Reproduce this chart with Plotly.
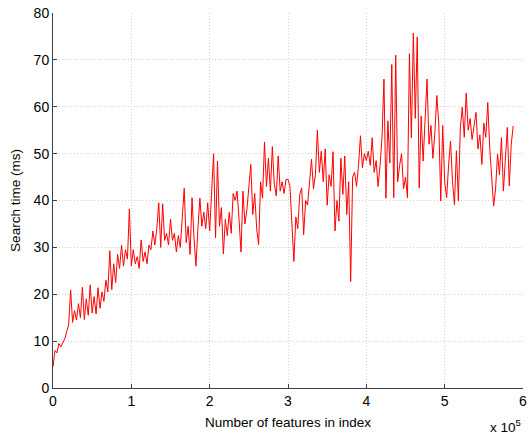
import plotly.graph_objects as go

feature_step = 2500
search_ms = [
    # 0 - 47.5k
    4.5, 8.0, 7.5, 9.5, 8.8, 9.6, 10.5, 12.0, 13.5, 20.9,
    14.0, 16.5, 14.5, 18.0, 15.0, 21.5, 14.6, 19.0, 15.5, 22.0,
    # 50k - 97.5k
    16.0, 19.5, 15.8, 21.4, 17.0, 20.5, 18.5, 23.0, 20.5, 29.3,
    21.0, 26.5, 22.5, 28.5, 25.5, 30.5, 26.0, 29.5, 27.5, 38.2,
    # 100k - 147.5k
    26.0, 29.5, 26.5, 28.0, 25.5, 31.6, 27.0, 29.0, 26.5, 30.5,
    29.5, 33.5, 30.5, 34.0, 39.5, 30.0, 39.3, 31.5, 33.0, 30.5,
    # 150k - 197.5k
    36.0, 31.5, 33.0, 29.0, 32.5, 30.0, 37.0, 42.6, 31.0, 34.5,
    28.5, 40.6, 32.0, 26.0, 34.0, 40.5, 34.5, 37.5, 34.0, 39.5,
    # 200k - 247.5k
    33.5, 41.0, 50.0, 32.0, 48.4, 34.5, 38.5, 28.6, 36.0, 32.5,
    37.5, 33.0, 41.5, 40.0, 42.0, 36.0, 29.0, 42.0, 35.0, 38.0,
    # 250k - 297.5k
    42.7, 47.7, 37.0, 41.5, 34.0, 30.6, 44.0, 40.5, 52.5, 43.0,
    49.0, 42.0, 51.5, 43.5, 41.0, 49.5, 42.0, 44.0, 41.5, 44.5,
    # 300k - 347.5k
    44.5, 43.0, 35.0, 27.0, 36.5, 34.0, 41.3, 42.7, 32.7, 40.0,
    39.0, 43.5, 48.8, 42.5, 45.5, 55.0, 46.0, 50.5, 44.0, 51.0,
    # 350k - 397.5k
    39.0, 45.5, 43.0, 50.4, 33.5, 40.0, 35.6, 49.0, 41.3, 49.5,
    37.0, 44.0, 22.7, 45.0, 46.0, 43.0, 47.5, 53.8, 47.0, 50.0,
    # 400k - 447.5k
    48.5, 50.5, 47.5, 53.4, 46.0, 48.5, 43.0, 47.5, 53.4, 65.9,
    40.5, 57.0, 48.0, 69.0, 40.6, 71.0, 44.0, 47.5, 50.0, 42.5,
    # 450k - 497.5k
    45.0, 40.6, 71.3, 53.4, 75.7, 57.5, 74.9, 42.7, 58.0, 48.4,
    57.0, 65.9, 52.0, 56.0, 49.0, 54.5, 62.4, 56.3, 39.9, 56.0,
    # 500k - 547.5k
    44.0, 40.6, 47.5, 52.7, 44.0, 39.1, 50.6, 39.9, 55.5, 59.9,
    53.5, 62.9, 55.0, 57.5, 53.0, 55.5, 58.8, 51.0, 54.0, 47.7,
    # 550k - 587.5k
    56.5, 53.5, 60.9, 51.3, 44.0, 38.8, 42.5, 49.9, 45.5, 53.4,
    42.0, 48.5, 55.6, 43.1, 52.0, 55.9,
]
num_features = [i * feature_step for i in range(len(search_ms))]

x_tick_vals = [0, 100000, 200000, 300000, 400000, 500000, 600000]
x_tick_text = ["0", "1", "2", "3", "4", "5", "6"]
y_tick_vals = [0, 10, 20, 30, 40, 50, 60, 70, 80]

font_family = "Liberation Sans, Arial, Helvetica, sans-serif"

fig = go.Figure()
fig.add_trace(go.Scatter(
    x=num_features, y=search_ms, mode="lines",
    line=dict(color="#ff0000", width=1),
    showlegend=False,
))

axis_common = dict(
    showline=True, linecolor="#404040", linewidth=1,
    ticks="inside", ticklen=4, tickcolor="#404040",
    showgrid=True, gridcolor="#cfcfcf", griddash="1px,2px", gridwidth=1,
    zeroline=False, mirror=False, ticklabeloverflow="allow",
    tickfont=dict(family=font_family, size=14, color="#000000"),
)

fig.update_layout(
    width=531, height=435,
    margin=dict(l=53, r=4, t=13, b=47),
    paper_bgcolor="white", plot_bgcolor="white",
    font=dict(family=font_family, size=14, color="#000000"),
    xaxis=dict(
        range=[0, 600000], tickvals=x_tick_vals, ticktext=x_tick_text,
        title=dict(text="Number of features in index", standoff=9,
                   font=dict(family=font_family, size=13.5)),
        **axis_common,
    ),
    yaxis=dict(
        range=[0, 80], tickvals=y_tick_vals,
        title=dict(text="Search time (ms)", standoff=9,
                   font=dict(family=font_family, size=13.5)),
        **axis_common,
    ),
    annotations=[dict(
        text="x 10<sup>5</sup>", xref="paper", yref="paper",
        x=1.0, y=0, xanchor="right", yanchor="top", yshift=-27,
        showarrow=False, font=dict(family=font_family, size=13.5),
    )],
)

fig.write_html("out.html")
